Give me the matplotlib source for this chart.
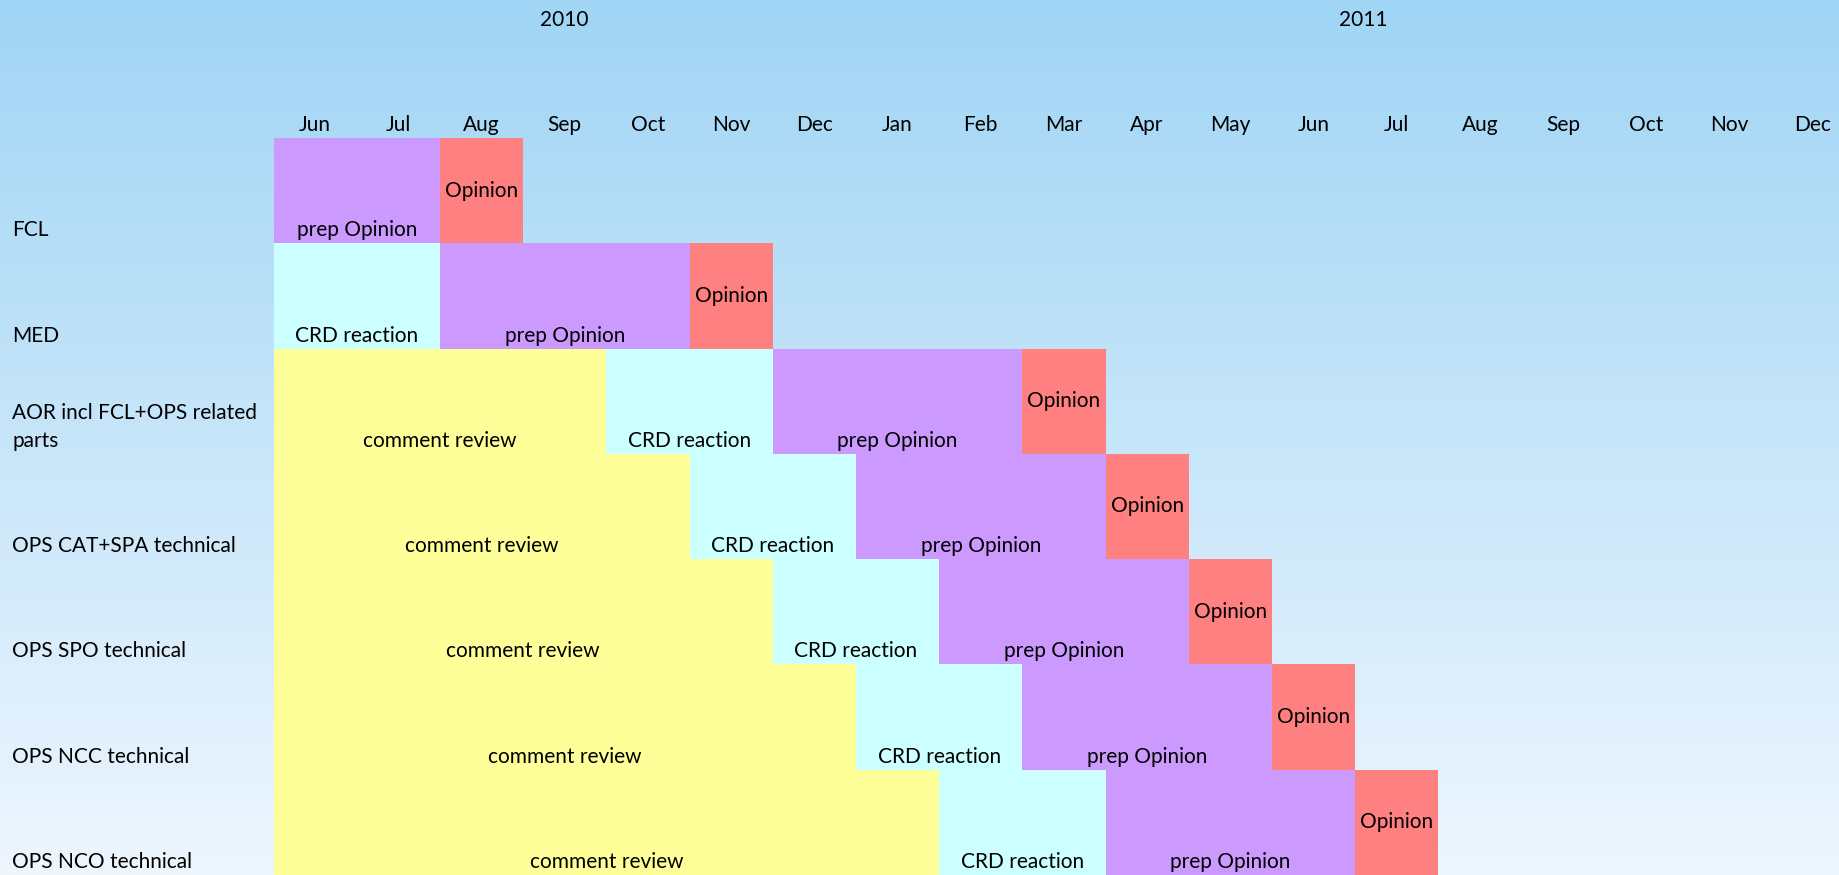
import matplotlib
matplotlib.use("Agg")
import matplotlib.pyplot as plt
import numpy as np
from matplotlib.transforms import blended_transform_factory

plt.rcParams['font.family'] = ['Lato', 'DejaVu Sans']

# ---- data ----
months = ["Jun", "Jul", "Aug", "Sep", "Oct", "Nov", "Dec",
          "Jan", "Feb", "Mar", "Apr", "May", "Jun", "Jul", "Aug", "Sep", "Oct", "Nov", "Dec"]
years = ["2010", "2011"]
year_centers = [3.5, 13.1]   # month-index centre of each year label

rows = ["FCL", "MED", "AOR incl FCL+OPS related\nparts", "OPS CAT+SPA technical",
        "OPS SPO technical", "OPS NCC technical", "OPS NCO technical"]

phases = ["comment review", "CRD reaction", "prep Opinion", "Opinion"]
phase_colors = {"comment review": "#FFFF99", "CRD reaction": "#CCFFFF",
                "prep Opinion": "#CC99FF", "Opinion": "#FF8080"}

# durations in months for each phase, per row (start at Jun 2010)
comment_review = [0, 0, 4, 5, 6, 7, 8]
crd_reaction   = [0, 2, 2, 2, 2, 2, 2]
prep_opinion   = [2, 3, 3, 3, 3, 3, 3]
opinion        = [1, 1, 1, 1, 1, 1, 1]
durations = [comment_review, crd_reaction, prep_opinion, opinion]

# ---- figure ----
W, H = 1839, 875
FS = 15
fig = plt.figure(figsize=(W / 100, H / 100), dpi=100)

# background gradient
bg = fig.add_axes([0, 0, 1, 1])
top = np.array([160, 213, 245]) / 255
bot = np.array([238, 246, 254]) / 255
t = np.linspace(0, 1, 256)[:, None]
grad = (top[None, :] * (1 - t) + bot[None, :] * t)[:, None, :]
bg.imshow(grad, aspect="auto", extent=[0, 1, 0, 1], origin="upper")
bg.set_axis_off()

left_px = 273.5
month_w = 83.2
top_px = 138
ax = fig.add_axes([left_px / W, 0, 1 - left_px / W, 1 - top_px / H])
ax.set_xlim(0, (W - left_px) / month_w)
ax.set_ylim(len(rows), 0)
ax.set_axis_off()
ax.patch.set_alpha(0)

row_h_px = (H - top_px) / len(rows)
bottom_off = 13 / row_h_px
line_gap = 28 / row_h_px

for i, r in enumerate(rows):
    start = 0
    for p, dur in zip(phases, durations):
        d = dur[i]
        if d <= 0:
            continue
        ax.barh(i + 0.5, d, left=start, height=1.0, color=phase_colors[p], linewidth=0)
        cx = start + d / 2
        if p == "Opinion":
            ax.text(cx, i + 0.5, p, ha="center", va="center", fontsize=FS)
        else:
            ax.text(cx, i + 1 - bottom_off, p, ha="center", va="center", fontsize=FS)
        start += d

# row labels (last line aligned with the bar texts)
tr = blended_transform_factory(fig.transFigure, ax.transData)
for i, r in enumerate(rows):
    lines = r.split("\n")
    n = len(lines)
    for k, ln in enumerate(lines):
        y = i + 1 - bottom_off - (n - 1 - k) * line_gap
        ax.text(12 / W, y, ln, transform=tr, ha="left", va="center", fontsize=FS)

# month labels
trm = blended_transform_factory(ax.transData, fig.transFigure)
for j, m in enumerate(months):
    ax.text(j + 0.5, 1 - 125 / H, m, transform=trm, ha="center", va="center", fontsize=FS)
for yl, yc in zip(years, year_centers):
    ax.text(yc, 1 - 20 / H, yl, transform=trm, ha="center", va="center", fontsize=FS)

fig.savefig("out.png", dpi=100)
